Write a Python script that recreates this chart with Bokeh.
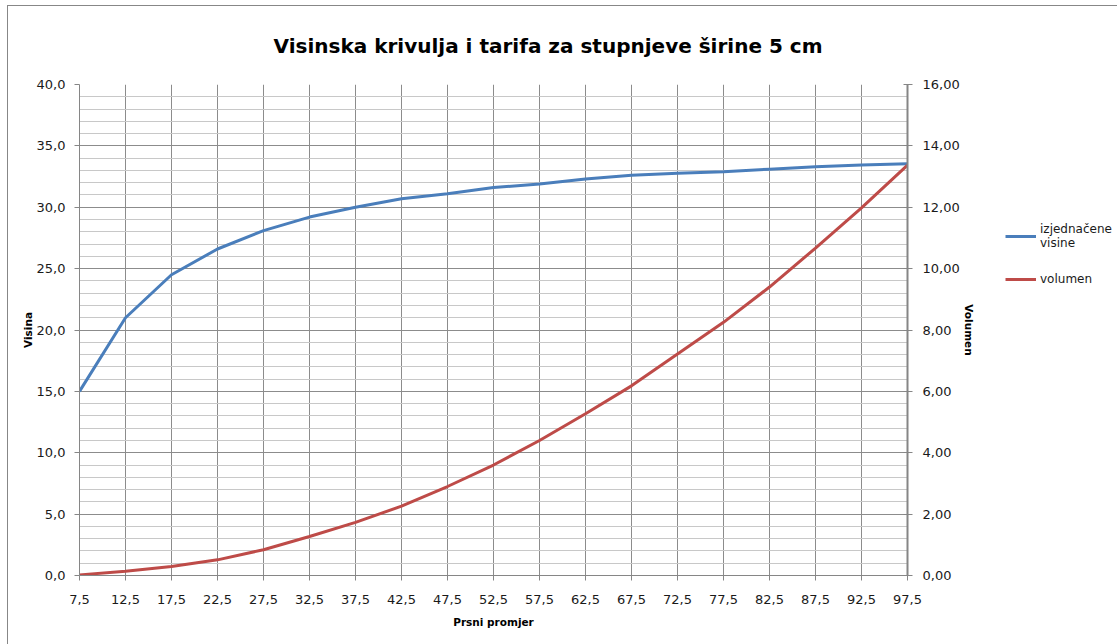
from bokeh.plotting import figure
from bokeh.layouts import row
from bokeh.models import (Range1d, LinearAxis, FixedTicker, CustomJSTickFormatter,
                          Legend, LegendItem)
from bokeh.embed import file_html
from bokeh.resources import INLINE

diameters = [7.5, 12.5, 17.5, 22.5, 27.5, 32.5, 37.5, 42.5, 47.5, 52.5,
             57.5, 62.5, 67.5, 72.5, 77.5, 82.5, 87.5, 92.5, 97.5]
heights = [15.0, 21.0, 24.5, 26.6, 28.1, 29.2, 30.0, 30.7, 31.1, 31.6,
           31.9, 32.3, 32.6, 32.77, 32.9, 33.1, 33.3, 33.45, 33.55]
volumes = [0.02, 0.14, 0.29, 0.51, 0.84, 1.27, 1.73, 2.26, 2.90, 3.60,
           4.40, 5.27, 6.18, 7.22, 8.25, 9.40, 10.67, 11.98, 13.37]
left_ticks = [0, 5, 10, 15, 20, 25, 30, 35, 40]
left_minor = list(range(0, 41))
right_ticks = [0, 2, 4, 6, 8, 10, 12, 14, 16]

title_text = "Visinska krivulja i tarifa za stupnjeve širine 5 cm"
x_title = "Prsni promjer"
y_title = "Visina"
y2_title = "Volumen"
series_names = ["izjednačene\nvisine", "volumen"]
series_colors = ["#4a7ebb", "#be4b48"]

FONT = "DejaVu Sans"
GRID_DARK = "#8c8c8c"
GRID_LIGHT = "#c8c8c8"

p = figure(width=974, height=638, output_backend="svg", toolbar_location=None,
           x_range=Range1d(7.5, 97.5), y_range=Range1d(0, 40),
           min_border_left=71, min_border_right=75, min_border_top=78,
           min_border_bottom=69, background_fill_color="white",
           border_fill_color="white")
p.outline_line_color = None
p.extra_y_ranges = {"vol": Range1d(0, 16)}

p.title.text = title_text
p.title.text_font = FONT
p.title.text_font_size = "20px"
p.title.text_font_style = "bold"
p.title.text_color = "#000000"
p.title.align = "left"
p.title.vertical_align = "top"
p.title.offset = 194
p.title.standoff = 50

p.xaxis.ticker = FixedTicker(ticks=diameters)
p.xaxis.formatter = CustomJSTickFormatter(code="return tick.toFixed(1).replace('.', ',');")
p.xaxis.axis_label = x_title
p.yaxis.ticker = FixedTicker(ticks=left_ticks, minor_ticks=left_minor)
p.yaxis.formatter = CustomJSTickFormatter(code="return tick.toFixed(1).replace('.', ',');")
p.yaxis.axis_label = y_title

ax2 = LinearAxis(y_range_name="vol", ticker=FixedTicker(ticks=right_ticks),
                 formatter=CustomJSTickFormatter(code="return tick.toFixed(2).replace('.', ',');"),
                 axis_label=y2_title)
p.add_layout(ax2, "right")

for ax in [p.xaxis[0], p.yaxis[0], ax2]:
    ax.axis_line_color = "#868686"
    ax.axis_line_width = 1
    ax.major_tick_line_color = "#868686"
    ax.major_tick_in = 0
    ax.major_tick_out = 5
    ax.minor_tick_line_color = None
    ax.major_label_text_font = FONT
    ax.major_label_text_font_size = "13px"
    ax.major_label_text_color = "#1a1a1a"
    ax.axis_label_text_font = FONT
    ax.axis_label_text_font_size = "10.5px"
    ax.axis_label_text_font_style = "bold"
    ax.axis_label_text_color = "#000000"
p.xaxis.major_label_standoff = 14
p.xaxis.axis_label_standoff = 9
p.yaxis.major_label_standoff = 9
p.yaxis.axis_label_standoff = 0
ax2.major_label_standoff = 10
ax2.axis_label_standoff = 0
ax2.major_tick_in = 4
ax2.axis_line_width = 2

p.xgrid.ticker = FixedTicker(ticks=diameters)
p.xgrid.grid_line_color = GRID_DARK
p.ygrid.ticker = FixedTicker(ticks=left_ticks, minor_ticks=left_minor)
p.ygrid.grid_line_color = GRID_DARK
p.ygrid.minor_grid_line_color = GRID_LIGHT

r1 = p.line(diameters, heights, line_color=series_colors[0], line_width=3)
r2 = p.line(diameters, volumes, y_range_name="vol", line_color=series_colors[1], line_width=3)

# legend panel (separate figure so the legend is not clipped by the frame)
pl = figure(width=135, height=638, output_backend="svg", toolbar_location=None,
            x_range=Range1d(0, 1), y_range=Range1d(0, 1),
            x_axis_type=None, y_axis_type=None,
            min_border_left=0, min_border_right=0, min_border_top=0,
            min_border_bottom=0, background_fill_color="white",
            border_fill_color="white")
pl.outline_line_color = None
pl.grid.visible = False
nan = float("nan")
l1 = pl.line([nan], [nan], line_color=series_colors[0], line_width=3)
l2 = pl.line([nan], [nan], line_color=series_colors[1], line_width=3)
legend = Legend(items=[LegendItem(label=series_names[0], renderers=[l1]),
                       LegendItem(label=series_names[1], renderers=[l2])],
                location=(23, 286), padding=0, margin=0, spacing=19,
                glyph_width=31, label_standoff=4, border_line_color=None,
                background_fill_alpha=0, label_text_font=FONT,
                label_text_font_size="12px", label_text_color="#1a1a1a",
                label_text_line_height=1.5)
pl.add_layout(legend)

layout = row(p, pl)
layout.styles = {"border-left": "1px solid #878787", "border-top": "1px solid #878787",
                 "margin-left": "7px", "margin-top": "5px"}

open("out.html", "w").write(file_html(layout, INLINE))
